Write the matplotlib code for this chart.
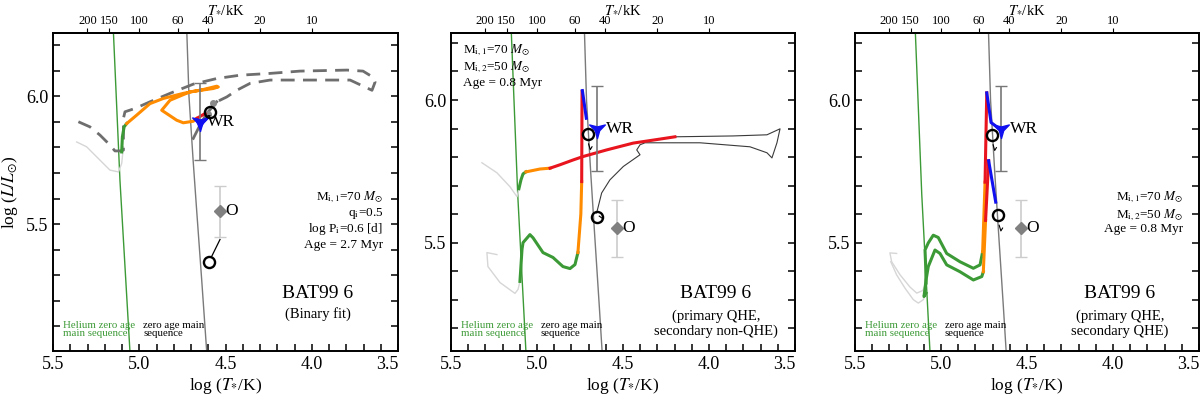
import numpy as np
import matplotlib
matplotlib.use("Agg")
import matplotlib.pyplot as plt
from matplotlib.path import Path
from matplotlib.ticker import MultipleLocator, FixedLocator, NullLocator

plt.rcParams['font.family'] = ['Liberation Serif', 'DejaVu Serif']
plt.rcParams['mathtext.fontset'] = 'stix'

# ---------------- data (log T, log L) ----------------
top_ticks_kK = [200, 150, 100, 60, 40, 20, 10]
bottom_ticks = [5.5, 5.0, 4.5, 4.0, 3.5]

he_zams_logT = [5.047, 5.054, 5.112, 5.150, 5.158]
he_zams_logL = [4.90, 5.00, 5.67, 6.25, 6.35]
zams_logT = [4.600, 4.609, 4.638, 4.667, 4.688, 4.712, 4.727]
zams_logL = [4.90, 5.00, 5.28, 5.55, 5.75, 6.00, 6.30]

wr_logT, wr_logL, wr_err = 4.65, 5.90, 0.15
o_logT, o_logL, o_err = 4.535, 5.55, 0.10

# panel 1: binary fit
p1_grey_T = [5.363, 5.305, 5.228, 5.170, 5.121, 5.102, 5.092]
p1_grey_L = [5.821, 5.802, 5.750, 5.711, 5.704, 5.737, 5.802]
p1_dash_T = [5.353, 5.286, 5.228, 5.179, 5.141, 5.112, 5.092, 5.092, 5.083, 5.025,
             4.938, 4.822, 4.687, 4.551, 4.416, 4.242, 4.068, 3.796, 3.703, 3.645,
             3.633, 3.651, 3.778, 4.068, 4.242, 4.358, 4.435, 4.493, 4.551]
p1_dash_L = [5.900, 5.880, 5.848, 5.815, 5.786, 5.786, 5.789, 5.913, 5.939, 5.952,
             5.978, 6.011, 6.047, 6.069, 6.082, 6.089, 6.098, 6.102, 6.098, 6.074,
             6.055, 6.023, 6.063, 6.063, 6.063, 6.050, 6.023, 5.997, 5.978]
p1_sec_T = [4.551, 4.609, 4.648, 4.687]
p1_sec_L = [5.978, 5.932, 5.887, 5.835]
p1_dots_T = [4.57, 4.60]
p1_dots_L = [5.975, 5.930]
p1_green_T = [5.102, 5.098, 5.088, 5.073]
p1_green_L = [5.782, 5.841, 5.880, 5.893]
p1_orange_T = [5.073, 5.015, 4.938, 4.861, 4.745, 4.629, 4.551, 4.542, 4.571, 4.706,
               4.822, 4.870, 4.841, 4.783, 4.745, 4.687, 4.667]
p1_orange_L = [5.893, 5.926, 5.971, 5.991, 6.011, 6.026, 6.039, 6.036, 6.030, 6.017,
               5.984, 5.945, 5.932, 5.906, 5.896, 5.902, 5.913]
p1_red_T = [4.667, 4.619]
p1_red_L = [5.913, 5.932]
p1_blue_T = [4.665, 4.648, 4.630, 4.607]
p1_blue_L = [5.906, 5.879, 5.898, 5.914]
p1_model_T = [4.590, 4.594]
p1_model_L = [5.939, 5.353]
p1_link_T = [4.583, 4.532]
p1_link_L = [5.370, 5.440]

# panel 2: primary QHE, secondary non-QHE
p2_grey1_T = [5.320, 5.233, 5.157, 5.116, 5.105]
p2_grey1_L = [5.780, 5.745, 5.696, 5.661, 5.689]
p2_grey2_T = [5.233, 5.291, 5.285, 5.215, 5.128, 5.110, 5.099]
p2_grey2_L = [5.458, 5.465, 5.416, 5.360, 5.322, 5.336, 5.364]
p2_sec_green_T = [5.105, 5.093, 5.081, 5.064]
p2_sec_green_L = [5.689, 5.720, 5.741, 5.748]
p2_sec_orange_T = [5.064, 4.983, 4.924]
p2_sec_orange_L = [5.748, 5.758, 5.761]
p2_sec_red_T = [4.924, 4.866, 4.789, 4.731, 4.595, 4.440, 4.285, 4.198]
p2_sec_red_L = [5.761, 5.773, 5.790, 5.802, 5.825, 5.849, 5.863, 5.871]
p2_sec_thin_T = [4.198, 3.860, 3.663, 3.587, 3.605, 3.634, 3.663, 3.762, 4.052, 4.372,
                 4.401, 4.420, 4.401, 4.498, 4.576, 4.624, 4.653]
p2_sec_thin_L = [5.871, 5.874, 5.878, 5.899, 5.850, 5.797, 5.815, 5.836, 5.850, 5.850,
                 5.843, 5.825, 5.808, 5.767, 5.720, 5.674, 5.604]
p2_pri_green_T = [5.099, 5.087, 5.081, 5.041, 5.023, 4.965, 4.907, 4.849, 4.808, 4.779, 4.762]
p2_pri_green_L = [5.364, 5.476, 5.500, 5.528, 5.517, 5.465, 5.448, 5.416, 5.409, 5.423, 5.465]
p2_pri_orange_T = [4.762, 4.745, 4.740]
p2_pri_orange_L = [5.465, 5.600, 5.714]
p2_pri_red_T = [4.740, 4.738]
p2_pri_red_L = [5.714, 6.030]
p2_pri_blue_T = [4.736, 4.713]
p2_pri_blue_L = [6.033, 5.936]
p2_model_T = [4.703, 4.653]
p2_model_L = [5.881, 5.591]
p2_tick1_T = [4.700, 4.690, 4.680]
p2_tick1_L = [5.846, 5.826, 5.836]
p2_tick2_T = [4.638, 4.620]
p2_tick2_L = [5.593, 5.585]

# panel 3: primary QHE, secondary QHE
p3_grey1_T = [5.258, 5.297, 5.287, 5.238, 5.180, 5.141, 5.106, 5.087]
p3_grey1_L = [5.462, 5.464, 5.433, 5.387, 5.344, 5.323, 5.332, 5.358]
p3_grey2_T = [5.292, 5.258, 5.209, 5.161, 5.132, 5.103, 5.087]
p3_grey2_L = [5.433, 5.387, 5.340, 5.300, 5.288, 5.300, 5.323]
p3_a_green_T = [5.087, 5.089, 5.093, 5.074, 5.045, 5.016, 4.967, 4.890, 4.812, 4.773, 4.758]
p3_a_green_L = [5.358, 5.416, 5.474, 5.499, 5.526, 5.518, 5.462, 5.433, 5.410, 5.422, 5.468]
p3_a_orange_T = [4.758, 4.744]
p3_a_orange_L = [5.468, 5.712]
p3_a_red_T = [4.744, 4.734]
p3_a_red_L = [5.712, 6.025]
p3_a_blue_T = [4.734, 4.709, 4.669]
p3_a_blue_L = [6.025, 5.921, 5.903]
p3_b_green_T = [5.087, 5.099, 5.087, 5.074, 5.035, 5.006, 4.967, 4.890, 4.812, 4.763, 4.754]
p3_b_green_L = [5.323, 5.311, 5.369, 5.416, 5.474, 5.462, 5.422, 5.398, 5.369, 5.381, 5.398]
p3_b_orange_T = [4.754, 4.741]
p3_b_orange_L = [5.398, 5.578]
p3_b_red_T = [4.741, 4.723]
p3_b_red_L = [5.578, 5.787]
p3_b_blue_T = [4.723, 4.682]
p3_b_blue_L = [5.787, 5.642]
p3_model_T = [4.702, 4.667]
p3_model_L = [5.878, 5.596]
p3_tick1_T = [4.697, 4.688, 4.678]
p3_tick1_L = [5.843, 5.823, 5.833]
p3_tick2_T = [4.662, 4.652, 4.642]
p3_tick2_L = [5.561, 5.541, 5.551]

GREEN = "#3c9a36"
ORANGE = "#ff8c00"
RED = "#e8141e"
BLUE = "#1010f0"
DGREY = "#6e6e6e"
LGREY = "#d6d6d6"

# three-armed star marker (one arm pointing down)
star_ang = np.deg2rad(-90 + 60 * np.arange(6))
star_rad = np.where(np.arange(6) % 2 == 0, 1.0, 0.28)
star_verts = np.column_stack([star_rad * np.cos(star_ang), star_rad * np.sin(star_ang)])
WR_MARKER = Path(np.vstack([star_verts, star_verts[:1]]), closed=True)


def to_kK(x):
    return 10.0 ** np.asarray(x) / 1000.0


def from_kK(t):
    t = np.clip(np.asarray(t, dtype=float), 1e-3, None)
    return np.log10(t * 1000.0)


def setup_axes(ax, ylim, ylabel=False):
    ax.set_xlim(5.5, 3.5)
    ax.set_ylim(*ylim)
    ax.set_xticks(bottom_ticks)
    ax.set_xticklabels(["%.1f" % v for v in bottom_ticks])
    ax.xaxis.set_minor_locator(MultipleLocator(0.1))
    ax.yaxis.set_major_locator(MultipleLocator(0.5))
    ax.yaxis.set_minor_locator(MultipleLocator(0.1))
    ax.tick_params(which="both", direction="in", length=5, width=1.1,
                   top=False, right=True, labelsize=13)
    for sp in ax.spines.values():
        sp.set_linewidth(1.4)
    ax.set_xlabel(r"log ($T_{*}$/K)", fontsize=12.5, labelpad=2)
    if ylabel:
        ax.set_ylabel(r"log ($L/L_{\odot}$)", fontsize=12.5, labelpad=4)

    sec = ax.secondary_xaxis("top", functions=(to_kK, from_kK))
    sec.xaxis.set_major_locator(FixedLocator(top_ticks_kK))
    sec.xaxis.set_minor_locator(NullLocator())
    sec.set_xticklabels([str(t) for t in top_ticks_kK])
    sec.tick_params(direction="out", length=3.5, width=0.8, labelsize=9, pad=0.5)
    sec.spines["top"].set_linewidth(1.4)
    sec.set_xlabel(r"$T_{*}$/kK", fontsize=10.5, labelpad=1.5)

    # zero age main sequences
    ax.plot(he_zams_logT, he_zams_logL, color=GREEN, lw=1.0, zorder=2)
    ax.plot(zams_logT, zams_logL, color="#7a7a7a", lw=1.0, zorder=2)
    ax.text(0.029, 0.069, "Helium zero age\nmain sequence", color=GREEN,
            fontsize=7.8, linespacing=0.85, va="center", transform=ax.transAxes)
    ax.text(0.261, 0.069, "zero age main\nsequence", color="k",
            fontsize=7.8, linespacing=0.85, va="center", transform=ax.transAxes)


def draw_obs(ax, wr_dx=6):
    ax.errorbar(wr_logT, wr_logL, yerr=wr_err, fmt="none", ecolor="#777777",
                elinewidth=1.2, capsize=4, capthick=1.0, zorder=5)
    ax.errorbar(o_logT, o_logL, yerr=o_err, fmt="none", ecolor="#cccccc",
                elinewidth=1.2, capsize=4, capthick=1.0, zorder=5)
    ax.plot(wr_logT, wr_logL, marker=WR_MARKER, color=BLUE, ms=13,
            ls="none", zorder=7)
    ax.plot(o_logT, o_logL, marker="D", color="#808080", ms=6, ls="none", zorder=7)
    ax.annotate("WR", (wr_logT, wr_logL), xytext=(wr_dx, 0),
                textcoords="offset points", fontsize=12.5, va="center", zorder=9)
    ax.annotate("O", (o_logT, o_logL), xytext=(4, 0),
                textcoords="offset points", fontsize=12.5, va="center", zorder=9)


def draw_models(ax, T, L):
    ax.plot(T, L, "o", mfc="none", mec="k", ms=8, mew=1.7, zorder=8)


fig = plt.figure(figsize=(12, 3.95), dpi=100)
ax1 = fig.add_axes([0.0442, 0.1114, 0.2875, 0.8051])
ax2 = fig.add_axes([0.3758, 0.1114, 0.2867, 0.8051])
ax3 = fig.add_axes([0.7125, 0.1114, 0.2867, 0.8051])

# -----------------------------
# Panel 1: binary fit
# -----------------------------
setup_axes(ax1, (5.004, 6.247), ylabel=True)
ax1.plot(p1_grey_T, p1_grey_L, color=LGREY, lw=1.0, zorder=3)
ax1.plot(p1_dash_T, p1_dash_L, color=DGREY, lw=2.0, ls=(0, (5, 3)), zorder=3)
ax1.plot(p1_sec_T, p1_sec_L, color=DGREY, lw=2.0, zorder=3)
ax1.plot(p1_dots_T, p1_dots_L, "o", color="#8a8a8a", ms=4, zorder=3)
ax1.plot(p1_green_T, p1_green_L, color=GREEN, lw=2.2, zorder=4)
ax1.plot(p1_orange_T, p1_orange_L, color=ORANGE, lw=2.2, zorder=4)
ax1.plot(p1_red_T, p1_red_L, color=RED, lw=2.2, zorder=4)
ax1.plot(p1_blue_T, p1_blue_L, color=BLUE, lw=2.2, zorder=4)
ax1.plot(p1_link_T, p1_link_L, color="k", lw=0.9, zorder=6)
draw_obs(ax1, wr_dx=5)
draw_models(ax1, p1_model_T, p1_model_L)
info1 = [r"M$_{\rm i,1}$=70 $M_{\odot}$", r"q$_{\rm i}$=0.5",
         r"log P$_{\rm i}$=0.6 [d]", "Age = 2.7 Myr"]
for txt, yy in zip(info1, [0.475, 0.425, 0.374, 0.325]):
    ax1.text(0.957, yy, txt, ha="right", va="baseline", fontsize=9.5,
             transform=ax1.transAxes)
ax1.text(0.768, 0.182, "BAT99 6", ha="center", va="center", fontsize=14,
         transform=ax1.transAxes)
ax1.text(0.768, 0.116, "(Binary fit)", ha="center", va="center", fontsize=10.5,
         transform=ax1.transAxes)

# -----------------------------
# Panel 2: primary QHE, secondary non-QHE
# -----------------------------
setup_axes(ax2, (5.12, 6.235))
ax2.plot(p2_grey1_T, p2_grey1_L, color=LGREY, lw=1.0, zorder=3)
ax2.plot(p2_grey2_T, p2_grey2_L, color=LGREY, lw=1.0, zorder=3)
ax2.plot(p2_sec_thin_T, p2_sec_thin_L, color="#3a3a3a", lw=0.8, zorder=3)
ax2.plot(p2_sec_green_T, p2_sec_green_L, color=GREEN, lw=2.2, zorder=4)
ax2.plot(p2_sec_orange_T, p2_sec_orange_L, color=ORANGE, lw=2.2, zorder=4)
ax2.plot(p2_sec_red_T, p2_sec_red_L, color=RED, lw=2.2, zorder=4)
ax2.plot(p2_pri_green_T, p2_pri_green_L, color=GREEN, lw=2.2, zorder=4)
ax2.plot(p2_pri_orange_T, p2_pri_orange_L, color=ORANGE, lw=2.2, zorder=4)
ax2.plot(p2_pri_red_T, p2_pri_red_L, color=RED, lw=2.2, zorder=4)
ax2.plot(p2_pri_blue_T, p2_pri_blue_L, color=BLUE, lw=2.2, zorder=4)
ax2.plot(p2_tick1_T, p2_tick1_L, color="k", lw=0.8, zorder=6)
ax2.plot(p2_tick2_T, p2_tick2_L, color="k", lw=0.8, zorder=6)
draw_obs(ax2)
draw_models(ax2, p2_model_T, p2_model_L)
info2 = [r"M$_{\rm i,1}$=70 $M_{\odot}$", r"M$_{\rm i,2}$=50 $M_{\odot}$",
         "Age = 0.8 Myr"]
for txt, yy in zip(info2, [0.937, 0.884, 0.833]):
    ax2.text(0.035, yy, txt, ha="left", va="baseline", fontsize=9.5,
             transform=ax2.transAxes)
ax2.text(0.770, 0.182, "BAT99 6", ha="center", va="center", fontsize=14,
         transform=ax2.transAxes)
ax2.text(0.770, 0.085, "(primary QHE,\nsecondary non-QHE)", ha="center",
         va="center", fontsize=10.5, linespacing=1.2, transform=ax2.transAxes)

# -----------------------------
# Panel 3: primary QHE, secondary QHE
# -----------------------------
setup_axes(ax3, (5.12, 6.235))
ax3.plot(p3_grey1_T, p3_grey1_L, color=LGREY, lw=1.0, zorder=3)
ax3.plot(p3_grey2_T, p3_grey2_L, color=LGREY, lw=1.0, zorder=3)
for gT, gL, oT, oL, rT, rL, bT, bL in [
        (p3_a_green_T, p3_a_green_L, p3_a_orange_T, p3_a_orange_L,
         p3_a_red_T, p3_a_red_L, p3_a_blue_T, p3_a_blue_L),
        (p3_b_green_T, p3_b_green_L, p3_b_orange_T, p3_b_orange_L,
         p3_b_red_T, p3_b_red_L, p3_b_blue_T, p3_b_blue_L)]:
    ax3.plot(gT, gL, color=GREEN, lw=2.2, zorder=4)
    ax3.plot(oT, oL, color=ORANGE, lw=2.2, zorder=4)
    ax3.plot(rT, rL, color=RED, lw=2.2, zorder=4)
    ax3.plot(bT, bL, color=BLUE, lw=2.2, zorder=4)
ax3.plot(p3_tick1_T, p3_tick1_L, color="k", lw=0.8, zorder=6)
ax3.plot(p3_tick2_T, p3_tick2_L, color="k", lw=0.8, zorder=6)
draw_obs(ax3)
draw_models(ax3, p3_model_T, p3_model_L)
for txt, yy in zip(info2, [0.475, 0.418, 0.374]):
    ax3.text(0.953, yy, txt, ha="right", va="baseline", fontsize=9.5,
             transform=ax3.transAxes)
ax3.text(0.770, 0.182, "BAT99 6", ha="center", va="center", fontsize=14,
         transform=ax3.transAxes)
ax3.text(0.770, 0.085, "(primary QHE,\nsecondary QHE)", ha="center",
         va="center", fontsize=10.5, linespacing=1.2, transform=ax3.transAxes)

# rightmost bottom label sits inside the axes edge
for ax in (ax1, ax2, ax3):
    ax.get_xticklabels()[-1].set_horizontalalignment("right")

fig.savefig("out.png", dpi=100)
